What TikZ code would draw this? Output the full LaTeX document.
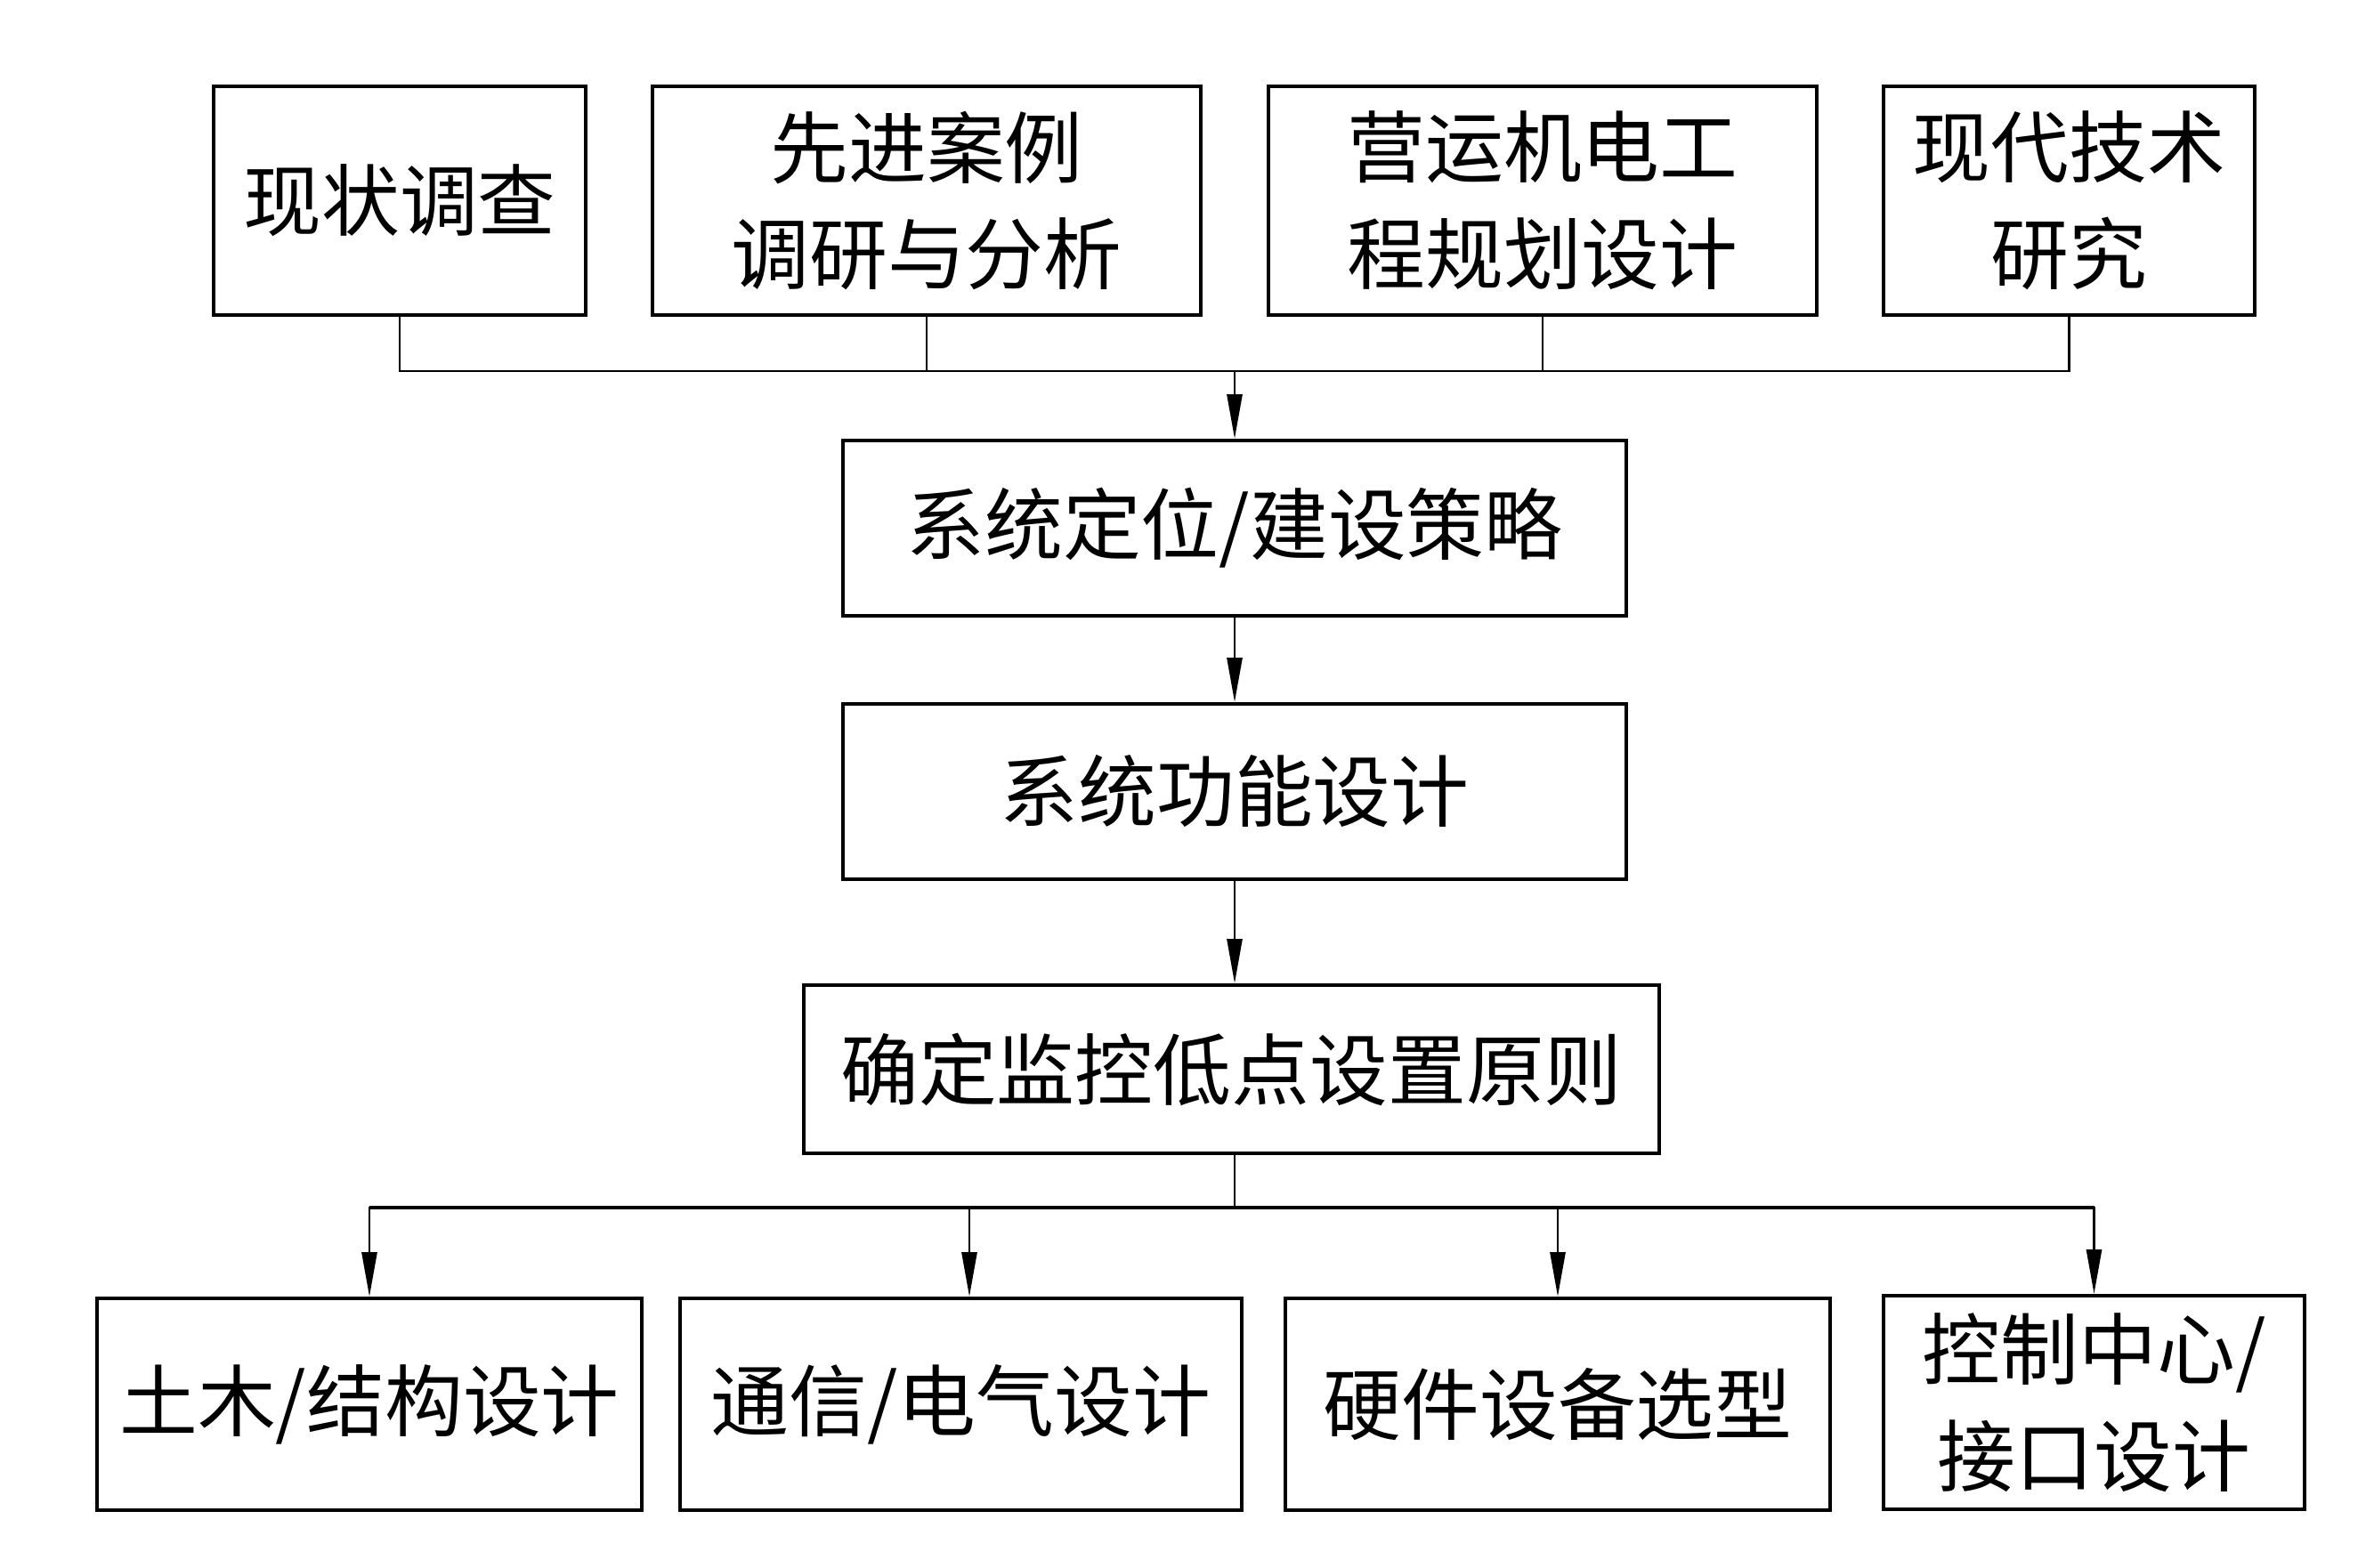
\documentclass[tikz,border=0pt]{standalone}
\usepackage{fontspec}
\setmainfont{Noto Sans CJK SC}
\usetikzlibrary{arrows.meta}

\begin{document}
\begin{tikzpicture}[>={Triangle[length=5mm,width=1.7mm]},
  box/.style={draw, line width=1.1pt, align=center, inner sep=0pt,
    font=\fontsize{25}{34}\selectfont},
  link/.style={line width=0.8pt}]
  \useasboundingbox (0,0) rectangle (26.67,-17.62);

  % Top row: research inputs
  \node[box, minimum width=4.18cm, minimum height=2.57cm] (xianzhuang) at (4.49,-2.255) {现状调查};
  \node[box, minimum width=6.16cm, minimum height=2.57cm] (anli) at (10.41,-2.255) {先进案例\\调研与分析};
  \node[box, minimum width=6.16cm, minimum height=2.57cm] (jidian) at (17.33,-2.255) {营运机电工\\程规划设计};
  \node[box, minimum width=4.17cm, minimum height=2.57cm] (jishu) at (23.245,-2.255) {现代技术\\研究};

  % Middle column
  \node[box, minimum width=8.80cm, minimum height=1.97cm] (celue) at (13.87,-5.935) {系统定位/建设策略};
  \node[box, minimum width=8.80cm, minimum height=1.97cm] (gongneng) at (13.87,-8.895) {系统功能设计};
  \node[box, minimum width=9.61cm, minimum height=1.89cm] (yuanze) at (13.835,-12.015) {确定监控低点设置原则};

  % Bottom row: design tasks
  \node[box, minimum width=6.12cm, minimum height=2.38cm] (tumu) at (4.15,-15.78) {土木/结构设计};
  \node[box, minimum width=6.31cm, minimum height=2.38cm] (tongxin) at (10.795,-15.78) {通信/电气设计};
  \node[box, minimum width=6.12cm, minimum height=2.38cm] (yingjian) at (17.50,-15.78) {硬件设备选型};
  \node[box, minimum width=4.73cm, minimum height=2.40cm] (kongzhi) at (23.525,-15.76) {控制中心/\\接口设计};

  % Joints of the two buses
  \coordinate (topjoin) at (13.87,-4.17);
  \coordinate (botjoin) at (13.87,-13.57);

  % Top bus into the strategy box
  \foreach \b in {xianzhuang, anli, jidian, jishu}
    \draw[link] (\b.south) |- (topjoin);
  \draw[link, ->] (topjoin) -- (celue.north);

  % Down the middle column
  \draw[link, ->] (celue) -- (gongneng);
  \draw[link, ->] (gongneng.south) -- (gongneng.south |- yuanze.north);

  % Bottom bus out to the design tasks
  \draw[link] (botjoin |- yuanze.south) -- (botjoin);
  \draw[line width=1.3pt] (tumu.north |- botjoin) -- (kongzhi.north |- botjoin);
  \foreach \b in {tumu, yingjian, kongzhi}
    \draw[link, ->] (botjoin) -| (\b.north);
  \draw[link, ->] (botjoin) -| ([xshift=0.95mm]tongxin.north);
\end{tikzpicture}
\end{document}
